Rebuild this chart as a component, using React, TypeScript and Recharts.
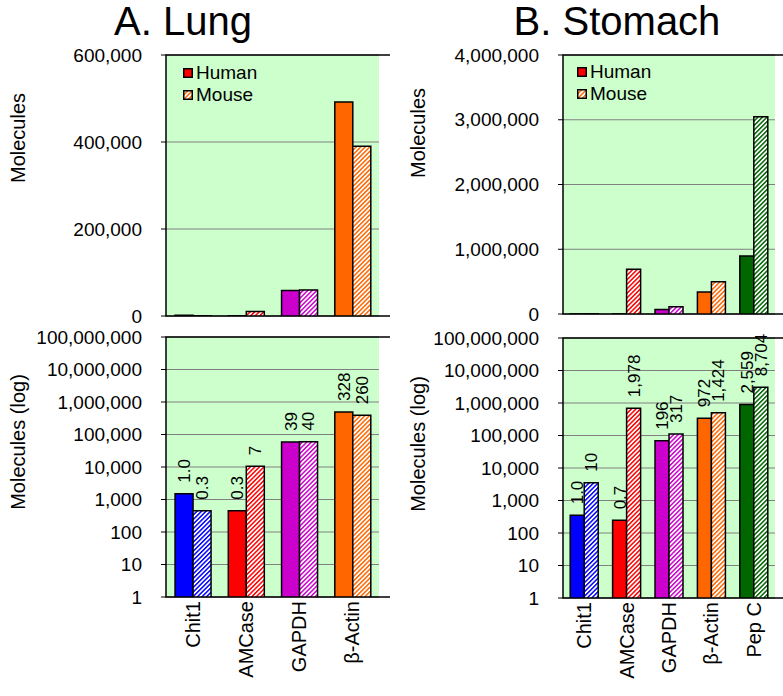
import React from 'react';
import { BarChart, Bar, XAxis, YAxis, CartesianGrid, Cell, ReferenceArea, Legend, LabelList } from 'recharts';

// Lung
const lungGenes = ['Chit1', 'AMCase', 'GAPDH', 'β-Actin'];
const lungHuman = [1500, 450, 58500, 492000];
const lungMouse = [450, 10500, 60000, 390000];
const lungHumanLabels = ['1.0', '0.3', '39', '328'];
const lungMouseLabels = ['0.3', '7', '40', '260'];

// Stomach
const stomachGenes = ['Chit1', 'AMCase', 'GAPDH', 'β-Actin', 'Pep C'];
const stomachHuman = [350, 245, 68600, 340000, 896000];
const stomachMouse = [3500, 692000, 111000, 498000, 3046000];
const stomachHumanLabels = ['1.0', '0.7', '196', '972', '2,559'];
const stomachMouseLabels = ['10', '1,978', '317', '1,424', '8,704'];

const lungLinearTicks = [0, 200000, 400000, 600000];
const stomachLinearTicks = [0, 1000000, 2000000, 3000000, 4000000];
const logTicks = [1, 10, 100, 1000, 10000, 100000, 1000000, 10000000, 100000000];

const geneColors: Record<string, string> = {
  Chit1: '#0000ff',
  AMCase: '#ff0000',
  GAPDH: '#cc00cc',
  'β-Actin': '#ff6600',
  'Pep C': '#006600',
};

const FONT = '"Liberation Sans", Arial, sans-serif';
const hatchId = (prefix: string, gene: string) => `${prefix}-hatch-${gene.replace(/[^A-Za-z0-9]/g, '')}`;

const buildRows = (genes: string[], human: number[], mouse: number[], hl: string[], ml: string[]) =>
  genes.map((gene, i) => ({ gene, human: human[i], mouse: mouse[i], humanLabel: hl[i], mouseLabel: ml[i] }));

const Hatches = ({ prefix, genes }: { prefix: string; genes: string[] }) => (
  <defs>
    {genes.map(g => (
      <pattern key={g} id={hatchId(prefix, g)} patternUnits="userSpaceOnUse" width="3.2" height="3.2" patternTransform="rotate(45)">
        <rect width="3.2" height="3.2" fill="#ffffff" />
        <rect width="1.5" height="3.2" fill={geneColors[g]} />
      </pattern>
    ))}
  </defs>
);

const CategoryTick = (props: any) => {
  const { x, y, payload } = props;
  return (
    <text x={x} y={y} transform={`rotate(-90, ${x}, ${y})`} textAnchor="end" dy="0.35em" fontSize={20} fill="#000">
      {payload.value}
    </text>
  );
};

// rotated value labels above each bar
const valueLabel = (props: any) => {
  const { x, y, width, value } = props;
  const cx = x + width / 2;
  const ty = y - 11;
  return (
    <text x={cx} y={ty} transform={`rotate(-90, ${cx}, ${ty})`} textAnchor="start" dy="0.35em" fontSize={17} fill="#000">
      {value}
    </text>
  );
};

const AxisTitle = ({ value, tx, ty }: { value: string; tx: number; ty: number }) => (
  <text x={tx} y={ty} transform={`rotate(-90, ${tx}, ${ty})`} textAnchor="middle" dy="0.35em" fontSize={20} fill="#000">
    {value}
  </text>
);

const LegendBox = ({ prefix }: { prefix: string }) => (
  <div style={{ fontSize: 19, lineHeight: '22px', color: '#000', fontFamily: FONT }}>
    <div style={{ display: 'flex', alignItems: 'center' }}>
      <svg width={10} height={10}>
        <rect x={0.75} y={0.75} width={8.5} height={8.5} fill="#ff0000" stroke="#000" strokeWidth={1.5} />
      </svg>
      <span style={{ marginLeft: 3 }}>Human</span>
    </div>
    <div style={{ display: 'flex', alignItems: 'center' }}>
      <svg width={10} height={10}>
        <rect x={0.75} y={0.75} width={8.5} height={8.5} fill={`url(#${hatchId(prefix, 'β-Actin')})`} stroke="#000" strokeWidth={1.5} />
      </svg>
      <span style={{ marginLeft: 3 }}>Mouse</span>
    </div>
  </div>
);

interface PanelProps {
  prefix: string;
  rows: ReturnType<typeof buildRows>;
  log: boolean;
  ticks: number[];
  width: number;
  height: number;
  left: number;
  top: number;
  yWidth: number;
  marginRight: number;
  marginBottom: number;
  yTitle: string;
  titlePos: [number, number];
  legendPos?: [number, number];
}

const Panel: React.FC<PanelProps> = ({ prefix, rows, log, ticks, width, height, left, top, yWidth, marginRight, marginBottom, yTitle, titlePos, legendPos }) => {
  const n = rows.length;
  const edgeTicks = rows.map((_, i) => i).concat(n);
  const domain: [number, number] = [ticks[0], ticks[ticks.length - 1]];
  return (
    <div style={{ position: 'absolute', left, top }}>
      <BarChart width={width} height={height} data={rows} margin={{ top: 10, right: marginRight, bottom: marginBottom, left: 0 }} barCategoryGap="17%" barGap={0}>
        <Hatches prefix={prefix} genes={rows.map(r => r.gene)} />
        <CartesianGrid xAxisId="cat" vertical={false} stroke="#808080" fill="#ccffcc" fillOpacity={1} />
        <XAxis xAxisId="edge" type="number" domain={[0, n]} ticks={edgeTicks} interval={0} tick={false} tickSize={6} axisLine={false} height={8} stroke="#000" strokeWidth={1.5} />
        <XAxis
          xAxisId="cat"
          dataKey="gene"
          type="category"
          interval={0}
          axisLine={false}
          tickLine={false}
          tickSize={0}
          tickMargin={4}
          height={90}
          hide={!log}
          tick={<CategoryTick />}
        />
        <YAxis
          type="number"
          scale={log ? 'log' : 'linear'}
          domain={domain}
          ticks={ticks}
          interval={0}
          allowDataOverflow
          width={yWidth}
          tickSize={5}
          tickMargin={19}
          axisLine={false}
          stroke="#000"
          tick={{ fill: '#000', fontSize: 19 }}
          tickFormatter={(v: number) => v.toLocaleString('en-US')}
          label={<AxisTitle value={yTitle} tx={titlePos[0]} ty={titlePos[1]} />}
        />
        <ReferenceArea xAxisId="edge" x1={0} x2={n} y1={domain[0]} y2={domain[1]} fill="none" stroke="#000" strokeWidth={1.5} ifOverflow="visible" />
        <Bar xAxisId="cat" dataKey="human" stroke="#000" strokeWidth={1.5} isAnimationActive={false}>
          {rows.map(r => (
            <Cell key={r.gene} fill={geneColors[r.gene]} />
          ))}
          {log && <LabelList dataKey="humanLabel" content={valueLabel} />}
        </Bar>
        <Bar xAxisId="cat" dataKey="mouse" stroke="#000" strokeWidth={1.5} isAnimationActive={false}>
          {rows.map(r => (
            <Cell key={r.gene} fill={`url(#${hatchId(prefix, r.gene)})`} />
          ))}
          {log && <LabelList dataKey="mouseLabel" content={valueLabel} />}
        </Bar>
        {legendPos && (
          <Legend
            layout="vertical"
            align="center"
            verticalAlign="middle"
            wrapperStyle={{ left: legendPos[0], top: legendPos[1], width: 'auto', height: 'auto' }}
            content={() => <LegendBox prefix={prefix} />}
          />
        )}
      </BarChart>
    </div>
  );
};

export default function App() {
  const lungRows = buildRows(lungGenes, lungHuman, lungMouse, lungHumanLabels, lungMouseLabels);
  const stomachRows = buildRows(stomachGenes, stomachHuman, stomachMouse, stomachHumanLabels, stomachMouseLabels);
  return (
    <div style={{ position: 'absolute', left: 0, top: 0, width: 783, height: 696, background: '#fff', fontFamily: FONT }}>
      <svg width={783} height={50} style={{ position: 'absolute', left: 0, top: 0 }}>
        <text x={183} y={35} textAnchor="middle" fontSize={40} fill="#000">A. Lung</text>
        <text x={617} y={35} textAnchor="middle" fontSize={40} fill="#000">B. Stomach</text>
      </svg>
      <Panel prefix="lb" rows={lungRows} log ticks={logTicks} width={390} height={368} left={0} top={327} yWidth={166} marginRight={11} marginBottom={0} yTitle="Molecules (log)" titlePos={[18, 115]} />
      <Panel prefix="sb" rows={stomachRows} log ticks={logTicks} width={393} height={368} left={390} top={328} yWidth={173} marginRight={8} marginBottom={0} yTitle="Molecules (log)" titlePos={[28, 116]} />
      <Panel prefix="lt" rows={lungRows} log={false} ticks={lungLinearTicks} width={390} height={291} left={0} top={45} yWidth={166} marginRight={11} marginBottom={12} yTitle="Molecules" titlePos={[18, 93]} legendPos={[183, 17]} />
      <Panel prefix="st" rows={stomachRows} log={false} ticks={stomachLinearTicks} width={393} height={289} left={390} top={45} yWidth={173} marginRight={8} marginBottom={12} yTitle="Molecules" titlePos={[28, 88]} legendPos={[187, 16]} />
    </div>
  );
}
